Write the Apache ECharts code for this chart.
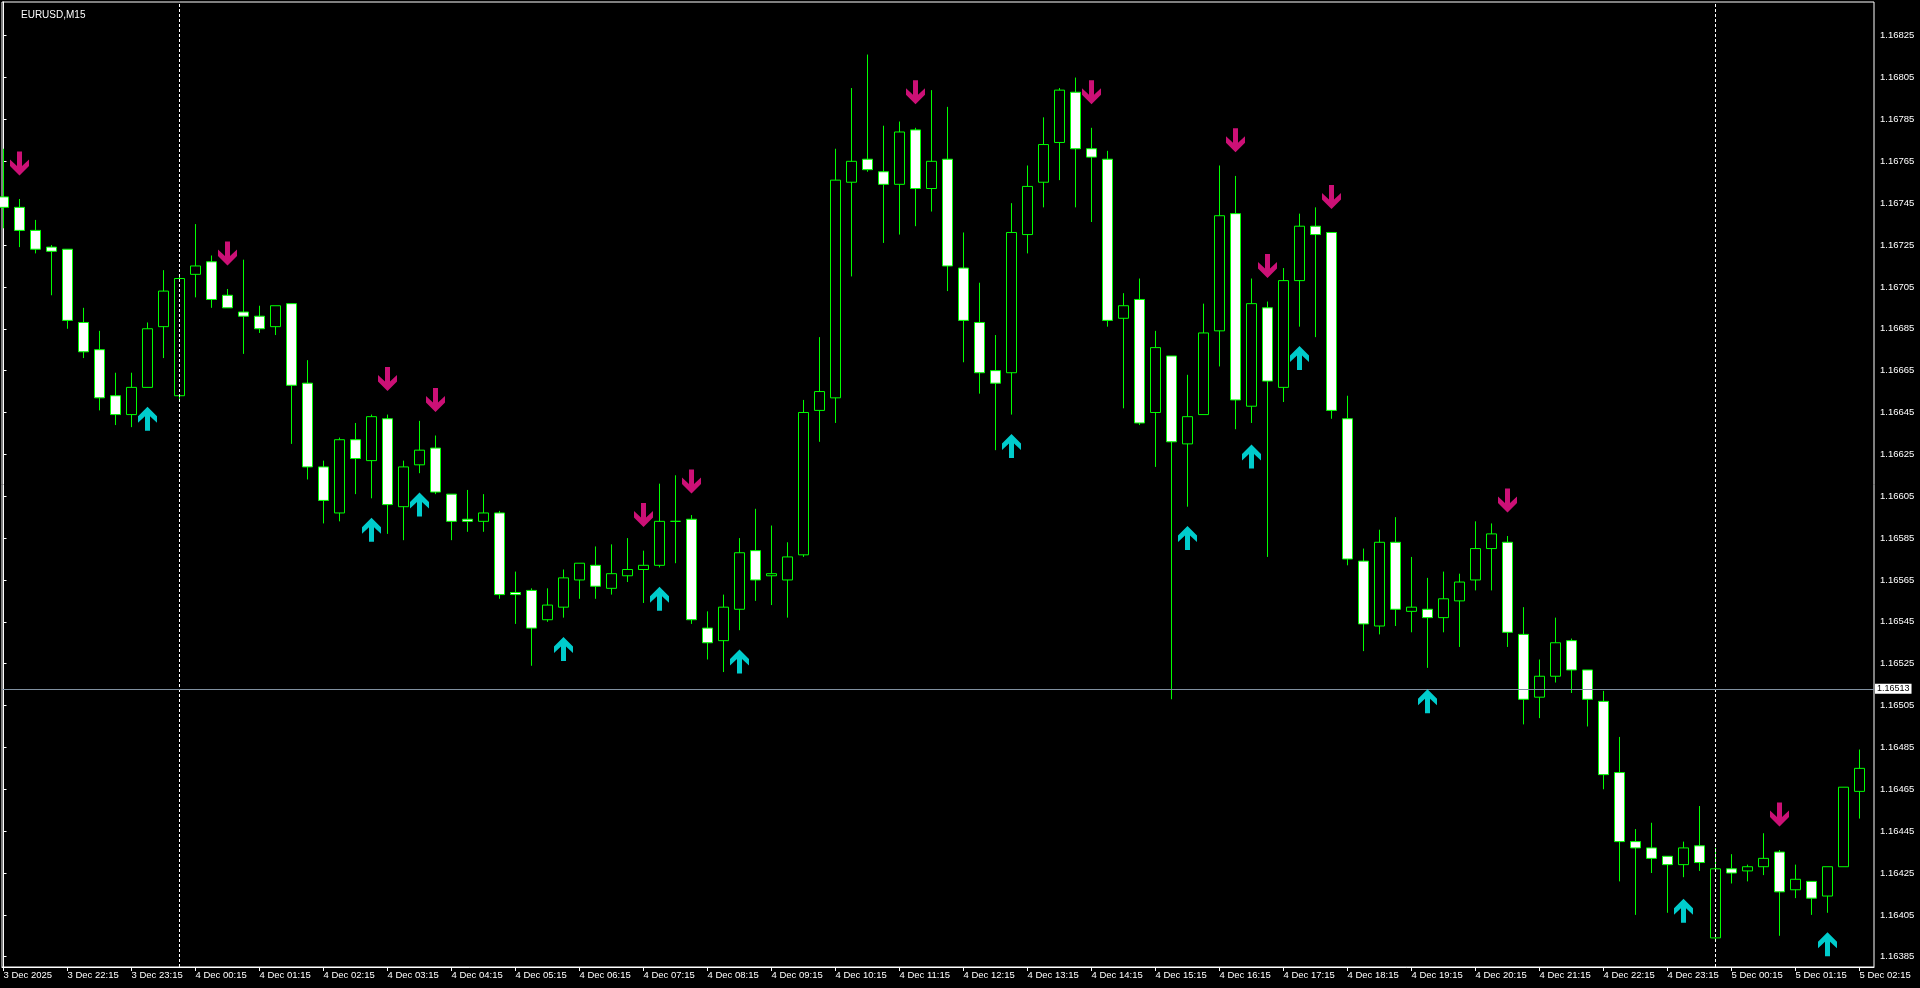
<!DOCTYPE html>
<html><head><meta charset="utf-8">
<script src="https://cdn.jsdelivr.net/npm/echarts@6/dist/echarts.min.js"></script>
<style>html,body{margin:0;padding:0;background:#000;overflow:hidden}#c{width:1920px;height:988px}</style>
</head><body><div id="c"></div>
<script>
const symbolName = 'EURUSD,M15';
const opens = [1.16748,1.16743,1.16732,1.16724,1.16723,1.16688,1.16675,1.16653,1.16644,1.16657,
1.16686,1.16653,1.16711,1.16717,1.16701,1.16693,1.16691,1.16686,1.16697,1.16659,
1.16619,1.16597,1.16632,1.16622,1.16642,1.16600,1.16620,1.16628,1.16606,1.16594,
1.16593,1.16597,1.16559,1.16560,1.16546,1.16552,1.16565,1.16572,1.16561,1.16567,
1.16570,1.16572,1.16593,1.16594,1.16542,1.16536,1.16551,1.16579,1.16567,1.16565,
1.16577,1.16646,1.16652,1.16755,1.16766,1.16760,1.16754,1.16780,1.16752,1.16766,
1.16714,1.16688,1.16665,1.16664,1.16730,1.16755,1.16774,1.16798,1.16771,1.16766,
1.16690,1.16699,1.16645,1.16672,1.16630,1.16644,1.16684,1.16740,1.16648,1.16695,
1.16657,1.16708,1.16734,1.16731,1.16642,1.16574,1.16543,1.16583,1.16550,1.16551,
1.16547,1.16555,1.16565,1.16580,1.16583,1.16539,1.16509,1.16519,1.16536,1.16522,
1.16507,1.16473,1.16440,1.16437,1.16433,1.16429,1.16438,1.16394,1.16427,1.16426,
1.16428,1.16435,1.16417,1.16421,1.16414,1.16428,1.16464];
const highs = [1.16771,1.16747,1.16737,1.16725,1.16723,1.16695,1.16684,1.16664,1.16664,1.16688,
1.16713,1.16711,1.16735,1.16720,1.16704,1.16718,1.16696,1.16696,1.16697,1.16670,
1.16622,1.16633,1.16640,1.16644,1.16644,1.16622,1.16641,1.16634,1.16606,1.16608,
1.16606,1.16598,1.16569,1.16561,1.16561,1.16570,1.16573,1.16581,1.16582,1.16585,
1.16579,1.16611,1.16615,1.16596,1.16550,1.16558,1.16585,1.16599,1.16591,1.16583,
1.16651,1.16681,1.16771,1.16800,1.16816,1.16782,1.16784,1.16781,1.16799,1.16791,
1.16731,1.16707,1.16682,1.16745,1.16763,1.16786,1.16800,1.16805,1.16781,1.16770,
1.16702,1.16709,1.16684,1.16672,1.16663,1.16697,1.16763,1.16758,1.16709,1.16698,
1.16714,1.16740,1.16743,1.16731,1.16653,1.16580,1.16589,1.16595,1.16576,1.16566,
1.16569,1.16568,1.16593,1.16592,1.16586,1.16552,1.16527,1.16547,1.16537,1.16522,
1.16512,1.16490,1.16446,1.16449,1.16433,1.16440,1.16457,1.16437,1.16434,1.16429,
1.16444,1.16436,1.16429,1.16421,1.16428,1.16466,1.16484];
const lows = [1.16733,1.16724,1.16721,1.16701,1.16685,1.16671,1.16646,1.16639,1.16638,1.16657,
1.16671,1.16651,1.16700,1.16695,1.16695,1.16673,1.16683,1.16682,1.16630,1.16613,
1.16592,1.16593,1.16606,1.16604,1.16587,1.16584,1.16616,1.16606,1.16584,1.16588,
1.16588,1.16556,1.16544,1.16524,1.16545,1.16547,1.16556,1.16556,1.16558,1.16564,
1.16554,1.16571,1.16573,1.16544,1.16527,1.16521,1.16541,1.16555,1.16553,1.16547,
1.16576,1.16631,1.16640,1.16710,1.16760,1.16726,1.16730,1.16734,1.16741,1.16703,
1.16669,1.16654,1.16627,1.16644,1.16721,1.16743,1.16756,1.16743,1.16736,1.16686,
1.16647,1.16639,1.16619,1.16508,1.16600,1.16644,1.16667,1.16637,1.16640,1.16576,
1.16650,1.16686,1.16681,1.16642,1.16572,1.16531,1.16539,1.16543,1.16540,1.16523,
1.16540,1.16533,1.16560,1.16560,1.16533,1.16496,1.16499,1.16516,1.16511,1.16495,
1.16465,1.16421,1.16405,1.16425,1.16406,1.16423,1.16426,1.16392,1.16420,1.16421,
1.16424,1.16395,1.16413,1.16405,1.16406,1.16428,1.16451];
const closes = [1.16743,1.16732,1.16723,1.16722,1.16689,1.16674,1.16652,1.16644,1.16657,1.16685,
1.16703,1.16709,1.16715,1.16699,1.16695,1.16691,1.16685,1.16696,1.16658,1.16619,
1.16603,1.16632,1.16623,1.16643,1.16601,1.16619,1.16627,1.16607,1.16593,1.16593,
1.16597,1.16558,1.16558,1.16542,1.16553,1.16566,1.16573,1.16562,1.16568,1.16570,
1.16572,1.16593,1.16593,1.16546,1.16535,1.16552,1.16578,1.16565,1.16568,1.16576,
1.16645,1.16655,1.16756,1.16765,1.16761,1.16754,1.16779,1.16752,1.16765,1.16715,
1.16689,1.16664,1.16659,1.16731,1.16753,1.16773,1.16799,1.16771,1.16767,1.16689,
1.16696,1.16640,1.16676,1.16631,1.16643,1.16683,1.16739,1.16651,1.16697,1.16660,
1.16708,1.16734,1.16730,1.16646,1.16575,1.16544,1.16583,1.16551,1.16552,1.16547,
1.16556,1.16564,1.16580,1.16587,1.16540,1.16508,1.16519,1.16535,1.16522,1.16508,
1.16472,1.16440,1.16437,1.16432,1.16429,1.16437,1.16430,1.16427,1.16425,1.16428,
1.16432,1.16416,1.16422,1.16413,1.16428,1.16466,1.16475];

const xTickIndex = [0,4,8,12,16,20,24,28,32,36,40,44,48,52,56,60,64,68,72,76,80,84,88,92,96,100,104,108,112,116];
const xTickLabels = ['3 Dec 2025','3 Dec 22:15','3 Dec 23:15','4 Dec 00:15','4 Dec 01:15','4 Dec 02:15','4 Dec 03:15','4 Dec 04:15','4 Dec 05:15','4 Dec 06:15','4 Dec 07:15','4 Dec 08:15','4 Dec 09:15','4 Dec 10:15','4 Dec 11:15','4 Dec 12:15','4 Dec 13:15','4 Dec 14:15','4 Dec 15:15','4 Dec 16:15','4 Dec 17:15','4 Dec 18:15','4 Dec 19:15','4 Dec 20:15','4 Dec 21:15','4 Dec 22:15','4 Dec 23:15','5 Dec 00:15','5 Dec 01:15','5 Dec 02:15'];
const yTickLabels = ['1.16385','1.16405','1.16425','1.16445','1.16465','1.16485','1.16505','1.16525','1.16545','1.16565','1.16585','1.16605','1.16625','1.16645','1.16665','1.16685','1.16705','1.16725','1.16745','1.16765','1.16785','1.16805','1.16825'];

const sellArrowIdx = [1,14,24,27,40,43,57,68,77,79,83,94,111];
const sellArrowPrice = [1.16764,1.16721,1.16661,1.16651,1.16596,1.16612,1.16798,1.16798,1.16775,1.16715,1.16748,1.16603,1.16453];
const buyArrowIdx = [9,23,26,35,41,46,63,74,78,81,89,105,114];
const buyArrowPrice = [1.16642,1.16589,1.16601,1.16532,1.16556,1.16526,1.16629,1.16585,1.16624,1.16671,1.16507,1.16407,1.16391];

const priceLine = 1.16513;
const daySeparatorIdx = [11, 107];

const FONT = 'Liberation Sans, Arial, sans-serif';
const candleData = opens.map((o, i) => [i, o, closes[i], lows[i], highs[i]]);
const upPath = 'path://M7 24 L12 24 L12 9.5 L19 16 L19 9.5 L9.5 0 L0 9.5 L0 16 L7 9.5 Z';
const downPath = 'path://M7 0 L12 0 L12 14.5 L19 8 L19 14.5 L9.5 24 L0 14.5 L0 8 L7 14.5 Z';

const markLineData = daySeparatorIdx.map(x => ({
  xAxis: x,
  lineStyle: {color: '#ffffff', type: [3, 2], width: 1},
  label: {show: false}
}));
markLineData.push({
  yAxis: priceLine,
  lineStyle: {color: '#8090a0', type: 'solid', width: 1},
  label: {show: true, position: 'end', distance: 1, formatter: priceLine.toFixed(5), color: '#000000',
    backgroundColor: '#ffffff', padding: [1, 2, 0, 2], fontSize: 9, fontFamily: FONT}
});

const chart = echarts.init(document.getElementById('c'), null, {renderer: 'canvas'});
chart.setOption({
  animation: false,
  backgroundColor: '#000000',
  title: {text: symbolName, left: 16, top: 5, textStyle: {color: '#ffffff', fontSize: 10, fontWeight: 'normal', fontFamily: FONT}},
  grid: {left: 2, right: 46, top: 2, bottom: 21, show: true, borderColor: '#ffffff', borderWidth: 1, backgroundColor: '#000000'},
  xAxis: {
    type: 'value', min: -0.09375, max: 116.90625,
    splitLine: {show: false},
    axisLine: {show: true, lineStyle: {color: '#ffffff'}},
    axisTick: {show: true, customValues: xTickIndex, length: 4, lineStyle: {color: '#ffffff'}},
    axisLabel: {show: true, customValues: xTickIndex, align: 'left', margin: 3, color: '#ffffff', fontSize: 9.5, fontFamily: FONT,
      formatter: v => xTickLabels[xTickIndex.indexOf(Math.round(v))] || ''}
  },
  yAxis: {
    type: 'value', position: 'right', min: 1.163801, max: 1.168411, scale: true,
    splitLine: {show: false},
    axisLine: {show: true, lineStyle: {color: '#ffffff'}},
    axisTick: {show: true, customValues: yTickLabels.map(Number), length: 3, lineStyle: {color: '#ffffff'}},
    axisLabel: {show: true, customValues: yTickLabels.map(Number), margin: 6, color: '#ffffff', fontSize: 9.5, fontFamily: FONT,
      formatter: v => v.toFixed(5)}
  },
  series: [
    {
      type: 'candlestick', data: candleData, barWidth: 10, silent: true, clip: true,
      encode: {x: 0, y: [1, 2, 3, 4]},
      itemStyle: {color: '#000000', color0: '#ffffff', borderColor: '#00ff00', borderColor0: '#00ff00', borderColorDoji: '#00ff00', borderWidth: 1},
      markLine: {silent: true, symbol: 'none', animation: false, precision: 5, data: markLineData},
      z: 3
    },
    {
      type: 'scatter', data: buyArrowIdx.map((x, k) => [x, buyArrowPrice[k]]),
      symbol: upPath, symbolSize: [19, 24], itemStyle: {color: '#00ffff'}, silent: true, z: 5
    },
    {
      type: 'scatter', data: sellArrowIdx.map((x, k) => [x, sellArrowPrice[k]]),
      symbol: downPath, symbolSize: [19, 24], itemStyle: {color: '#ff1493'}, silent: true, z: 5
    }
  ]
});
</script>
</body></html>
